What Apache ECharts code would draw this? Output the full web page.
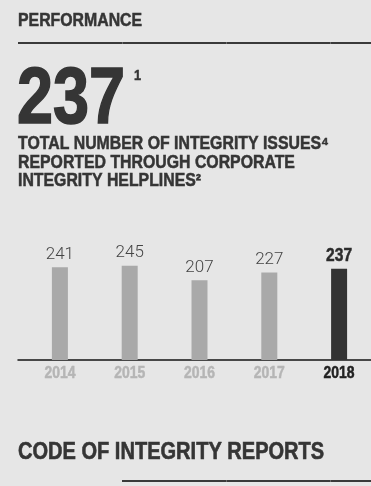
<!DOCTYPE html>
<html>
<head>
<meta charset="utf-8">
<script src="https://cdn.jsdelivr.net/npm/echarts@6/dist/echarts.min.js"></script>
<style>
  html, body { margin: 0; padding: 0; background: #e6e6e6; }
  #chart { width: 371px; height: 486px; }
</style>
</head>
<body>
<div id="chart"></div>
<script>
// Integrity issues reported through the corporate helplines, per year
const years = ['2014', '2015', '2016', '2017', '2018'];
const issues = [241, 245, 207, 227, 237];
const currentYear = '2018';

const headline = '237';
const headlineNote = '1';
const subtitleLines = [
  'TOTAL NUMBER OF INTEGRITY ISSUES\u2074',
  'REPORTED THROUGH CORPORATE',
  'INTEGRITY HELPLINES\u00b2'
];
const sectionTitle = 'PERFORMANCE';
const nextSectionTitle = 'CODE OF INTEGRITY REPORTS';

// condensed heavy look: Liberation Sans Bold squeezed horizontally, lightly stroked
const SANS = "'Liberation Sans', Arial, sans-serif";
const INK = '#353535';
const BAR_GREY = '#a9a9a9';
const BAR_DARK = '#333333';

const chart = echarts.init(document.getElementById('chart'), null, { renderer: 'canvas' });

function heading(x, y, text, size, squeeze, weight, color) {
  return {
    type: 'text',
    x: x, y: y,
    scaleX: squeeze,
    style: {
      x: 0, y: 0,
      text: text,
      font: 'bold ' + size + 'px ' + SANS,
      fill: color || INK,
      stroke: color || INK,
      lineWidth: weight,
      align: 'left',
      verticalAlign: 'middle'
    }
  };
}

// segmented rule: dark bar with faint joints
function rule(x0, x1, y, joints) {
  const els = [{
    type: 'rect',
    shape: { x: x0, y: y, width: x1 - x0, height: 2 },
    style: { fill: '#3a3a3a' }
  }];
  joints.forEach(function (jx) {
    els.push({
      type: 'rect',
      shape: { x: jx, y: y, width: 1, height: 2 },
      style: { fill: '#6a6a6a' }
    });
  });
  return els;
}

const graphics = []
  .concat([heading(18, 20.7, sectionTitle, 18, 0.88, 0.5)])
  .concat(rule(18, 371, 42, [122, 226, 330]))
  .concat([
    heading(17, 101, headline, 79, 0.82, 1.6),
    heading(134, 75.6, headlineNote, 15, 0.85, 0.5)
  ])
  .concat(subtitleLines.map(function (t, i) {
    return heading(18, 144.4 + i * 18.5, t, 18, 0.88, 0.5);
  }))
  .concat([heading(18, 452.3, nextSectionTitle, 24, 0.835, 0.6)])
  .concat(rule(122, 371, 480, [226, 330]));

const barData = issues.map(function (v, i) {
  const isCurrent = years[i] === currentYear;
  return {
    value: v,
    itemStyle: { color: isCurrent ? BAR_DARK : BAR_GREY },
    label: { show: !isCurrent }
  };
});

// year captions under the axis, plus the bold value of the current year
function renderCaptions(params, api) {
  const cat = api.value(0);
  const val = api.value(1);
  const base = api.coord([cat, 0]);
  const top = api.coord([cat, val]);
  const isCurrent = years[params.dataIndex] === currentYear;
  const yearColor = isCurrent ? '#222222' : '#b5b5b5';
  const children = [{
    type: 'text',
    x: base[0], y: base[1] + 13.8,
    scaleX: 0.82,
    style: {
      x: 0, y: 0,
      text: years[params.dataIndex],
      font: 'bold 17px ' + SANS,
      fill: yearColor,
      stroke: yearColor,
      lineWidth: 0.5,
      align: 'center',
      verticalAlign: 'middle'
    }
  }];
  if (isCurrent) {
    children.push({
      type: 'text',
      x: top[0], y: top[1] - 13.4,
      scaleX: 0.82,
      style: {
        x: 0, y: 0,
        text: String(val),
        font: 'bold 19px ' + SANS,
        fill: '#2b2b2b',
        stroke: '#2b2b2b',
        lineWidth: 0.5,
        align: 'center',
        verticalAlign: 'middle'
      }
    });
  }
  return { type: 'group', children: children };
}

chart.setOption({
  animation: false,
  backgroundColor: '#e6e6e6',
  graphic: graphics,
  grid: [
    { left: 25, width: 349, bottom: 126, height: 115.5, outerBoundsMode: 'none', containLabel: false },
    { left: 18, right: 0, bottom: 126, height: 1, outerBoundsMode: 'none', containLabel: false }
  ],
  xAxis: [
    {
      type: 'category',
      gridIndex: 0,
      data: years,
      axisLine: { show: false },
      axisTick: { show: false },
      axisLabel: { show: false }
    },
    {
      type: 'value',
      gridIndex: 1,
      min: 0, max: 1,
      axisLine: { show: true, onZero: false, lineStyle: { color: '#151515', width: 1.5 } },
      axisTick: { show: false },
      axisLabel: { show: false },
      splitLine: { show: false }
    }
  ],
  yAxis: [
    { type: 'value', gridIndex: 0, min: 0, max: 300, show: false, splitLine: { show: false } },
    { type: 'value', gridIndex: 1, show: false }
  ],
  series: [
    {
      type: 'bar',
      xAxisIndex: 0,
      yAxisIndex: 0,
      barWidth: 16,
      data: barData,
      label: {
        position: 'top',
        distance: 4,
        fontFamily: 'Roboto, sans-serif',
        fontWeight: 300,
        fontSize: 17,
        color: '#444444'
      }
    },
    {
      type: 'custom',
      xAxisIndex: 0,
      yAxisIndex: 0,
      silent: true,
      clip: false,
      renderItem: renderCaptions,
      data: years.map(function (y, i) { return [y, issues[i]]; })
    }
  ]
});
</script>
</body>
</html>
